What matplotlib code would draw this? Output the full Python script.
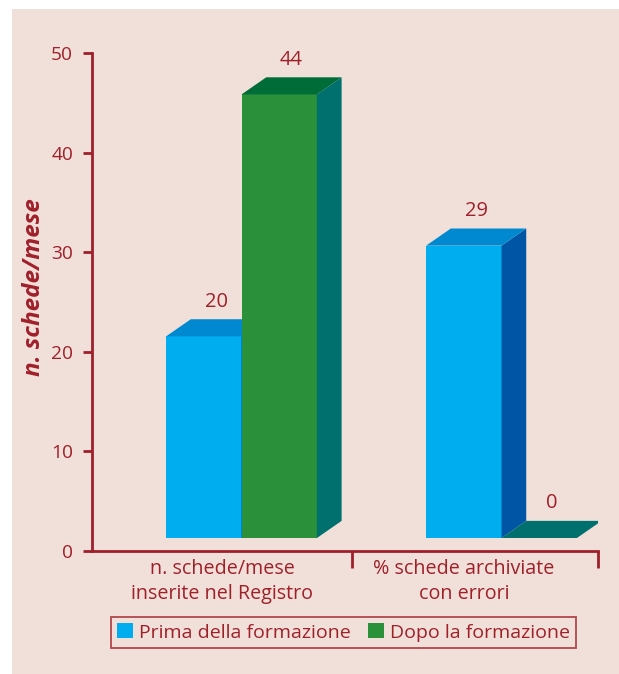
import matplotlib
matplotlib.use('Agg')
import matplotlib.pyplot as plt
from matplotlib.patches import Polygon, Rectangle, Patch

categories = ['n. schede/mese\ninserite nel Registro', '% schede archiviate\ncon errori']
series_names = ['Prima della formazione', 'Dopo la formazione']
prima = [20, 29]
dopo = [44, 0]
y_ticks = [0, 10, 20, 30, 40, 50]

red = '#a0202a'
bg = '#f1e0d9'
faces = {
    'prima': ('#00adef', '#0089d0', '#0055a5'),   # front, top, side
    'dopo': ('#2a903a', '#006d38', '#00706e'),
}

plt.rcParams['font.family'] = ['Open Sans', 'DejaVu Sans']

W, H = 619, 674
fig = plt.figure(figsize=(W / 100, H / 100), dpi=100)
fig.patch.set_facecolor('white')
fig.patches.append(Rectangle((12 / W, 0), 1, (H - 9) / H, transform=fig.transFigure,
                             facecolor=bg, edgecolor='none', zorder=-10))

rect = [92 / W, 123 / H, 506 / W, 498 / H]
ax = fig.add_axes(rect)
ax.patch.set_visible(False)
ax.set_xlim(-0.5, 1.446)
ax.set_ylim(0, 50)
for s in ['top', 'right']:
    ax.spines[s].set_visible(False)
for s in ['left', 'bottom']:
    ax.spines[s].set_color(red)
    ax.spines[s].set_linewidth(2)
ax.set_yticks(y_ticks)
ax.tick_params(axis='y', colors=red, length=6.5, width=2, pad=7, labelsize=13.8)
ax.set_xticks([0, 0.93], categories)
ax.tick_params(axis='x', which='major', length=0, pad=6, labelcolor=red, labelsize=14.2)
ax.set_xticks([0.5, 1.446], minor=True)
ax.tick_params(axis='x', which='minor', length=12, width=2, color=red)
for lab in ax.get_xticklabels():
    lab.set_linespacing(1.3)

# bars live on their own overlay with the 3D floor offset
axb = fig.add_axes(rect, sharex=ax)
axb.set_ylim(-1.29, 48.11)
axb.axis('off')

width = 0.29
dx, dy = 0.095, 1.7


def bar3d(x0, v, cols):
    front, top, side = cols
    if v > 0:
        axb.bar(x0, v, width=width, bottom=0, align='edge', color=front, linewidth=0, zorder=2)
        axb.add_patch(Polygon([(x0 + width, 0), (x0 + width + dx, dy), (x0 + width + dx, v + dy), (x0 + width, v)],
                              closed=True, facecolor=side, edgecolor='none', zorder=2))
    else:
        top = side
    axb.add_patch(Polygon([(x0, v), (x0 + dx, v + dy), (x0 + width + dx, v + dy), (x0 + width, v)],
                          closed=True, facecolor=top, edgecolor='none', zorder=2))
    axb.annotate(str(v), (x0 + width / 2 + dx / 2, v + dy), xytext=(0, 12.5), textcoords='offset points',
                 ha='center', va='center', color=red, fontsize=14.5)


for i in range(len(categories)):
    bar3d(i - 0.215, prima[i], faces['prima'])
    bar3d(i + 0.075, dopo[i], faces['dopo'])

fig.text(34 / W, 1 - 287 / H, 'n. schede/mese', rotation=90, ha='center', va='center',
         color=red, fontsize=17.5, fontweight='bold', fontstyle='italic')

handles = [Patch(facecolor=faces['prima'][0]), Patch(facecolor=faces['dopo'][0])]
leg = fig.legend(handles, series_names, loc='center', bbox_to_anchor=(343.5 / W, 41.5 / H), ncol=2,
                 frameon=True, fancybox=False, handlelength=0.8, handleheight=0.8, handletextpad=0.3,
                 columnspacing=0.9, borderpad=0.35, fontsize=14, labelcolor=red)
leg.get_frame().set_edgecolor(red)
leg.get_frame().set_facecolor('none')
leg.get_frame().set_linewidth(1.3)

fig.savefig('out.png', dpi=100)
